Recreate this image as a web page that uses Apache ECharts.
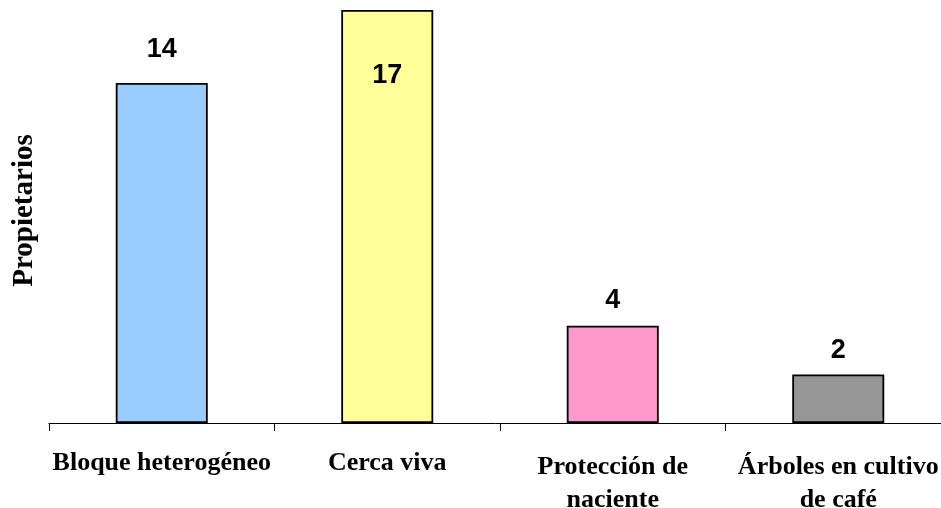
<!DOCTYPE html>
<html>
<head>
<meta charset="utf-8">
<script src="https://cdn.jsdelivr.net/npm/echarts@6/dist/echarts.min.js"></script>
<style>html,body{margin:0;padding:0;background:#fff;}#c{width:941px;height:508px;}</style>
</head>
<body>
<div id="c"></div>
<script>
const categories = ['Bloque heterogéneo', 'Cerca viva', 'Protección de\nnaciente', 'Árboles en cultivo\nde café'];
const values = [14, 17, 4, 2];
const barColors = ['#99CCFF', '#FFFF99', '#FF99CC', '#969696'];
const yAxisTitle = 'Propietarios';

// label placement per bar (style only)
const labelPlacement = [
  { position: 'top', distance: 20 },
  { position: 'insideTop', distance: 52 },
  { position: 'top', distance: 12 },
  { position: 'top', distance: 10 }
];

const chart = echarts.init(document.getElementById('c'), null, { renderer: 'canvas' });
chart.setOption({
  animation: false,
  backgroundColor: '#ffffff',
  grid: { left: 49, width: 902, top: 10, bottom: 85, containLabel: false, outerBoundsMode: 'none' },
  xAxis: {
    type: 'category',
    data: categories.map(c => c.indexOf('\n') >= 0
      ? { value: c, textStyle: { padding: [4, 0, 0, 0], lineHeight: 33 } }
      : c),
    boundaryGap: true,
    axisLine: { show: true, lineStyle: { color: '#000', width: 1 } },
    axisTick: { show: true, length: 8, alignWithLabel: false, lineStyle: { color: '#000', width: 1 } },
    axisLabel: {
      interval: 0,
      margin: 24,
      color: '#000',
      fontFamily: '"Liberation Serif", "Times New Roman", serif',
      fontWeight: 'bold',
      fontSize: 26,
      lineHeight: 32,
      align: 'center'
    }
  },
  yAxis: {
    type: 'value',
    min: 0,
    max: 17,
    name: yAxisTitle,
    nameLocation: 'middle',
    nameRotate: 90,
    nameGap: 10,
    nameTextStyle: {
      color: '#000',
      fontFamily: '"Liberation Serif", "Times New Roman", serif',
      fontWeight: 'bold',
      fontSize: 29,
      padding: [0, 0, 0, 12]
    },
    axisLine: { show: false },
    axisTick: { show: false },
    axisLabel: { show: false },
    splitLine: { show: false }
  },
  series: [{
    type: 'bar',
    barWidth: 92,
    data: values.map((v, i) => ({
      value: v,
      itemStyle: { color: barColors[i] },
      label: labelPlacement[i]
    })),
    itemStyle: { borderColor: '#000', borderWidth: 1.8 },
    label: {
      show: true,
      color: '#000',
      fontFamily: '"Liberation Sans", Arial, sans-serif',
      fontWeight: 'bold',
      fontSize: 27
    }
  }]
});
</script>
</body>
</html>
